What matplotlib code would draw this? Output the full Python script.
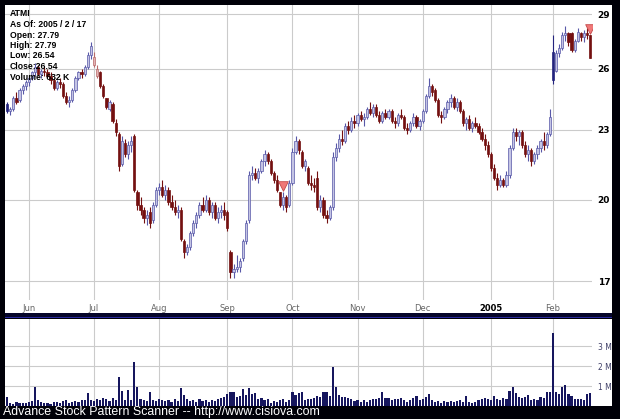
import numpy as np
import pandas as pd
import matplotlib
matplotlib.use('Agg')
import matplotlib.pyplot as plt
from matplotlib.patches import Rectangle
from matplotlib.ticker import NullLocator

# ---- daily bars, ATMI 2004-05-20 .. 2005-02-17 ----
holidays = ['2004-05-31', '2004-06-11', '2004-07-05', '2004-09-06',
            '2004-11-25', '2004-12-24', '2005-01-17']
dates = pd.bdate_range('2004-05-20', '2005-02-17', freq='C', holidays=holidays)

opens = [
    24.2, 23.9, 24.0, 24.5, 24.4, 24.9, 25.1, 25.3, 25.5, 25.8,
    26.1, 25.7, 25.9, 25.8, 25.6, 25.4, 25.0, 25.3, 25.2, 24.6,
    24.3, 24.4, 24.9, 25.5, 25.8, 25.7, 26.1, 26.7, 26.2, 25.6,
    25.8, 25.1, 24.5, 24.0, 24.2, 23.3, 22.8, 21.5, 22.4, 21.9,
    22.3, 22.7, 20.3, 19.8, 19.6, 19.3, 19.5, 19.2, 19.8, 20.4,
    20.5, 20.2, 20.4, 19.9, 19.7, 19.5, 19.6, 18.4, 18.0, 18.2,
    18.7, 19.1, 19.4, 19.8, 19.6, 20.0, 19.5, 19.8, 19.3, 19.5,
    19.6, 19.5, 18.0, 17.3, 17.4, 17.5, 17.8, 18.4, 19.2, 21.0,
    21.1, 20.9, 21.2, 21.6, 21.9, 21.6, 21.1, 20.8, 20.3, 19.8,
    20.1, 19.8, 20.7, 22.0, 22.5, 22.0, 21.4, 21.3, 20.7, 20.6,
    20.9, 19.7, 20.0, 19.4, 19.3, 19.7, 21.8, 22.2, 22.6, 22.5,
    23.2, 23.0, 23.4, 23.3, 23.7, 23.5, 23.6, 24.0, 23.8, 24.1,
    23.7, 23.4, 23.8, 23.6, 23.9, 23.4, 23.3, 23.7, 23.6, 23.1,
    23.0, 23.3, 23.6, 23.2, 23.4, 23.9, 24.6, 25.1, 24.9, 24.4,
    23.7, 23.6, 24.0, 24.3, 24.5, 24.1, 24.3, 23.9, 23.3, 23.5,
    23.1, 23.3, 23.2, 22.9, 22.6, 22.3, 21.9, 21.3, 20.9, 20.6,
    20.8, 20.6, 21.0, 22.2, 22.9, 22.7, 22.9, 22.3, 21.9, 22.1,
    21.6, 21.9, 22.2, 22.5, 22.3, 22.8, 26.9, 25.9, 26.8, 27.1,
    27.8, 27.9, 27.9, 27.0, 27.5, 27.9, 27.7, 27.9, 27.79]

highs = [
    24.3, 24.1, 24.6, 24.8, 25.0, 25.2, 25.4, 25.6, 25.9, 26.3,
    26.2, 26.0, 26.1, 26.0, 25.8, 25.5, 25.4, 25.5, 25.3, 24.8,
    24.6, 25.0, 25.6, 25.9, 26.0, 26.2, 26.9, 27.4, 26.9, 26.2,
    25.9, 25.2, 24.5, 24.4, 24.3, 23.5, 22.9, 22.7, 22.6, 22.5,
    22.7, 22.8, 20.4, 20.1, 19.7, 19.6, 19.7, 19.9, 20.5, 20.7,
    20.8, 20.6, 20.5, 20.2, 20.0, 19.8, 19.7, 18.5, 18.3, 18.8,
    19.2, 19.5, 19.9, 20.1, 20.2, 20.1, 19.9, 19.9, 19.7, 19.8,
    19.9, 19.6, 18.1, 17.6, 17.9, 17.8, 18.5, 19.2, 21.2, 21.4,
    21.3, 21.3, 21.7, 22.1, 22.0, 21.7, 21.2, 21.0, 20.3, 20.3,
    20.2, 20.8, 22.2, 22.7, 22.6, 22.1, 21.7, 21.4, 21.0, 20.9,
    21.2, 20.2, 20.1, 19.6, 19.8, 22.0, 22.4, 22.8, 23.0, 23.3,
    23.4, 23.6, 23.7, 23.8, 23.9, 23.8, 24.1, 24.3, 24.2, 24.2,
    23.9, 23.9, 24.0, 24.0, 24.0, 23.6, 23.8, 24.0, 23.7, 23.3,
    23.4, 23.8, 23.7, 23.5, 24.0, 24.7, 25.5, 25.2, 25.0, 24.5,
    23.9, 24.1, 24.4, 24.7, 24.6, 24.5, 24.4, 24.0, 23.6, 23.7,
    23.4, 23.6, 23.3, 23.1, 22.8, 22.5, 22.0, 21.5, 21.1, 21.0,
    20.9, 21.2, 22.3, 23.1, 23.1, 23.0, 23.0, 22.5, 22.3, 22.2,
    22.0, 22.3, 22.6, 22.9, 22.9, 24.0, 27.8, 27.0, 27.3, 28.0,
    28.3, 28.0, 28.0, 27.6, 28.2, 28.0, 28.1, 28.2, 27.79]

lows = [
    23.8, 23.7, 23.9, 24.2, 24.3, 24.7, 24.9, 25.1, 25.4, 25.6,
    25.6, 25.5, 25.6, 25.5, 25.2, 24.9, 24.9, 25.0, 24.5, 24.2,
    24.1, 24.3, 24.8, 25.4, 25.5, 25.6, 26.0, 26.5, 26.1, 25.5,
    25.0, 24.5, 24.0, 23.9, 23.3, 22.7, 21.2, 21.4, 21.8, 21.7,
    22.0, 20.3, 19.6, 19.4, 19.1, 19.0, 18.9, 19.1, 19.7, 20.2,
    20.1, 20.0, 19.8, 19.6, 19.4, 19.3, 18.4, 17.8, 17.9, 18.1,
    18.6, 18.9, 19.3, 19.5, 19.5, 19.4, 19.3, 19.2, 19.1, 19.3,
    19.2, 18.8, 17.1, 17.1, 17.3, 17.3, 17.7, 18.3, 19.1, 20.8,
    20.8, 20.7, 21.1, 21.4, 21.5, 21.0, 20.7, 20.3, 19.7, 19.6,
    19.5, 19.7, 20.6, 21.9, 21.9, 21.3, 21.2, 20.6, 20.4, 20.3,
    19.6, 19.5, 19.3, 19.1, 19.2, 19.6, 21.6, 22.0, 22.3, 22.4,
    22.8, 22.9, 23.1, 23.2, 23.4, 23.2, 23.5, 23.7, 23.6, 23.6,
    23.3, 23.3, 23.5, 23.5, 23.3, 23.1, 23.2, 23.5, 23.0, 22.8,
    22.9, 23.2, 23.1, 23.0, 23.3, 23.8, 24.5, 24.6, 24.3, 23.6,
    23.3, 23.5, 23.8, 24.1, 24.0, 23.9, 23.8, 23.2, 23.0, 23.0,
    22.9, 23.1, 22.8, 22.5, 22.1, 21.8, 21.2, 20.8, 20.4, 20.5,
    20.5, 20.5, 20.9, 22.1, 22.5, 22.3, 22.2, 21.8, 21.6, 21.4,
    21.5, 21.7, 22.0, 22.1, 22.2, 22.7, 25.2, 25.8, 26.6, 27.0,
    27.5, 27.2, 26.9, 26.9, 27.4, 27.5, 27.4, 27.6, 26.54]

closes = [
    23.9, 24.0, 24.5, 24.3, 24.9, 25.1, 25.3, 25.5, 25.8, 26.1,
    25.7, 25.9, 25.8, 25.6, 25.4, 25.0, 25.3, 25.2, 24.6, 24.3,
    24.4, 24.9, 25.5, 25.8, 25.7, 26.1, 26.7, 27.2, 26.6, 26.0,
    25.1, 24.6, 24.1, 24.3, 23.4, 22.9, 21.4, 22.5, 21.9, 22.3,
    22.5, 20.4, 19.8, 19.6, 19.3, 19.4, 19.1, 19.8, 20.4, 20.5,
    20.2, 20.4, 19.9, 19.7, 19.5, 19.6, 18.5, 18.0, 18.2, 18.7,
    19.1, 19.4, 19.8, 19.6, 20.0, 19.5, 19.8, 19.3, 19.5, 19.6,
    19.4, 18.9, 17.3, 17.4, 17.5, 17.7, 18.4, 19.1, 21.0, 21.1,
    20.9, 21.2, 21.6, 21.9, 21.6, 21.1, 20.8, 20.4, 19.8, 20.1,
    19.7, 20.7, 22.0, 22.5, 22.1, 21.4, 21.6, 20.7, 20.6, 20.5,
    19.7, 20.0, 19.4, 19.3, 19.7, 21.8, 22.2, 22.6, 22.5, 23.2,
    23.0, 23.4, 23.3, 23.7, 23.5, 23.6, 24.0, 23.8, 24.1, 23.7,
    23.4, 23.8, 23.6, 23.9, 23.4, 23.3, 23.7, 23.6, 23.1, 23.0,
    23.3, 23.6, 23.2, 23.4, 23.9, 24.6, 25.1, 24.8, 24.4, 23.7,
    23.6, 24.0, 24.3, 24.5, 24.1, 24.3, 23.9, 23.3, 23.5, 23.1,
    23.3, 23.2, 22.9, 22.6, 22.3, 21.9, 21.3, 20.9, 20.6, 20.8,
    20.6, 21.0, 22.2, 22.9, 22.7, 22.9, 22.3, 21.9, 22.1, 21.6,
    21.9, 22.2, 22.5, 22.3, 22.8, 23.6, 25.4, 26.8, 27.1, 27.8,
    27.9, 27.4, 27.0, 27.5, 28.0, 27.7, 27.9, 27.8, 26.54]

# volume in millions of shares
volumes = [
    0.45, 0.15, 0.12, 0.18, 0.15, 0.14, 0.16, 0.20, 0.25, 0.93,
    0.30, 0.20, 0.15, 0.15, 0.12, 0.18, 0.20, 0.15, 0.25, 0.30,
    0.15, 0.20, 0.25, 0.20, 0.30, 0.28, 0.67, 0.30, 0.25, 0.35,
    0.30, 0.40, 0.35, 0.25, 0.40, 0.30, 1.47, 0.77, 0.30, 0.80,
    0.30, 2.20, 0.93, 0.35, 0.30, 0.25, 0.72, 0.30, 0.25, 0.35,
    0.30, 0.25, 0.30, 0.20, 0.35, 0.25, 0.90, 0.55, 0.35, 0.25,
    0.30, 0.20, 0.35, 0.25, 0.30, 0.20, 0.30, 0.25, 0.35, 0.40,
    0.45, 0.60, 0.70, 0.70, 0.45, 0.50, 0.83, 0.55, 0.88, 0.60,
    0.65, 0.35, 0.40, 0.30, 0.35, 0.15, 0.25, 0.20, 0.30, 0.35,
    0.20, 0.30, 0.72, 0.55, 0.65, 0.70, 0.30, 0.35, 0.35, 0.40,
    0.50, 0.45, 0.72, 0.72, 0.50, 1.97, 0.93, 0.55, 0.45, 0.45,
    0.40, 0.35, 0.25, 0.30, 0.20, 0.30, 0.20, 0.30, 0.35, 0.35,
    0.40, 0.72, 0.40, 0.40, 0.30, 0.35, 0.35, 0.40, 0.30, 0.20,
    0.30, 0.40, 0.50, 0.30, 0.35, 0.45, 0.60, 0.30, 0.20, 0.25,
    0.15, 0.25, 0.20, 0.25, 0.20, 0.25, 0.30, 0.20, 0.50, 0.20,
    0.15, 0.20, 0.30, 0.35, 0.40, 0.35, 0.30, 0.50, 0.35, 0.30,
    0.40, 0.35, 0.77, 0.95, 0.63, 0.45, 0.40, 0.45, 0.55, 0.30,
    0.35, 0.30, 0.45, 0.40, 0.70, 0.70, 3.65, 0.70, 0.60, 0.95,
    1.07, 0.60, 0.50, 0.35, 0.35, 0.35, 0.30, 0.58, 0.632]

signal_days = ['2004-09-28', '2005-02-17']   # red pattern triangles
month_labels = ['Jun', 'Jul', 'Aug', 'Sep', 'Oct', 'Nov', 'Dec', '2005', 'Feb']
price_ticks = [17, 20, 23, 26, 29]
vol_ticks = [1, 2, 3]

info_lines = ['ATMI', 'As Of: 2005 / 2 / 17', 'Open: 27.79', 'High: 27.79',
              'Low: 26.54', 'Close:26.54', 'Volume: 632 K']

assert len(dates) == len(opens) == len(highs) == len(lows) == len(closes) == len(volumes)

o = np.array(opens); h = np.array(highs); l = np.array(lows); c = np.array(closes)
v = np.array(volumes)
x = np.arange(len(dates))

# ---- figure in pixel geometry ----
W, H = 620, 419
fig = plt.figure(figsize=(W / 100, H / 100), dpi=100, facecolor='#000008')

def frac(x0, y0, x1, y1):
    return [x0 / W, 1 - y1 / H, (x1 - x0) / W, (y1 - y0) / H]

def panel(x0, y0, x1, y1, color):
    r = frac(x0, y0, x1, y1)
    fig.add_artist(Rectangle((r[0], r[1]), r[2], r[3], transform=fig.transFigure,
                             facecolor=color, edgecolor='none', zorder=0))

panel(5, 5, 612, 313, 'white')
panel(5, 313, 612, 318, '#06062a')
panel(5, 316.5, 612, 318, '#2a2aa0')
panel(5, 319, 612, 406, 'white')

ax = fig.add_axes(frac(5, 5, 592, 300))
axv = fig.add_axes(frac(5, 319, 592, 406))
for a in (ax, axv):
    a.set_facecolor('none')
    for s in a.spines.values():
        s.set_visible(False)
    a.set_axisbelow(True)
    a.grid(True, color='#cbcbcb', lw=0.8)
    a.set_xlim(-0.7, len(x) - 0.4)

# month starts
ser = pd.Series(x, index=dates)
month_pos = ser.groupby([dates.year, dates.month]).first().values[1:]

# ---- candles: blue/red vs previous close, hollow/filled vs open ----
prev = np.r_[c[0], c[:-1]]
up = c >= prev
hollow = c >= o
face = np.where(up, np.where(hollow, '#c4c4e4', '#24247e'),
                np.where(hollow, '#e4b4b4', '#741010'))
edge = np.where(up, np.where(hollow, '#5858a8', '#24247e'),
                np.where(hollow, '#b86a6a', '#741010'))

ax.set_yscale('log')
ax.vlines(x, l, h, colors=edge, lw=0.8, zorder=2)
body = np.maximum(np.abs(c - o), 0.03)
ax.bar(x, body, bottom=np.minimum(o, c), width=0.72, color=face,
       edgecolor=edge, lw=0.5, zorder=3)

sig = [ser[pd.Timestamp(d)] for d in signal_days]
ax.scatter(sig, h[sig] * 1.012, marker='v', s=48, color='#f07878',
           edgecolor='#c44848', lw=0.6, zorder=5)

ax.set_ylim(29 * np.exp(-286 / 500), 29 * np.exp(9 / 500))
ax.yaxis.set_minor_locator(NullLocator())
ax.yaxis.tick_right()
ax.set_yticks(price_ticks)
ax.set_yticklabels([str(t) for t in price_ticks])
ax.tick_params(axis='y', length=0, pad=4, labelsize=6.5, labelcolor='black')
for t in ax.get_yticklabels():
    t.set_fontweight('bold')

ax.set_xticks(month_pos)
ax.set_xticklabels(month_labels)
ax.tick_params(axis='x', length=0, pad=3, labelsize=6, labelcolor='#666666')
for t in ax.get_xticklabels():
    if t.get_text() == '2005':
        t.set_fontweight('bold')
        t.set_color('black')

# ---- volume ----
axv.bar(x, v, width=0.7, color='#16165e', zorder=3)
axv.set_ylim(0, 4.35)
axv.yaxis.tick_right()
axv.set_yticks(vol_ticks)
axv.set_yticklabels([f'{t} M' for t in vol_ticks])
axv.tick_params(axis='y', length=0, pad=4, labelsize=5.5, labelcolor='#404068')
axv.set_xticks(month_pos)
axv.tick_params(axis='x', length=0, labelbottom=False)

# ---- text ----
for k, line in enumerate(info_lines):
    fig.text(10 / W, 1 - (14 + 10.5 * k) / H, line, fontsize=6.2, fontweight='bold',
             family='Liberation Sans', va='center', ha='left', color='black')

fig.text(3 / W, 1 - 412 / H, 'Advance Stock Pattern Scanner -- http://www.cisiova.com',
         fontsize=8.9, family='Liberation Sans', color='white', va='center', ha='left')

fig.savefig('out.png', dpi=100, facecolor=fig.get_facecolor())
